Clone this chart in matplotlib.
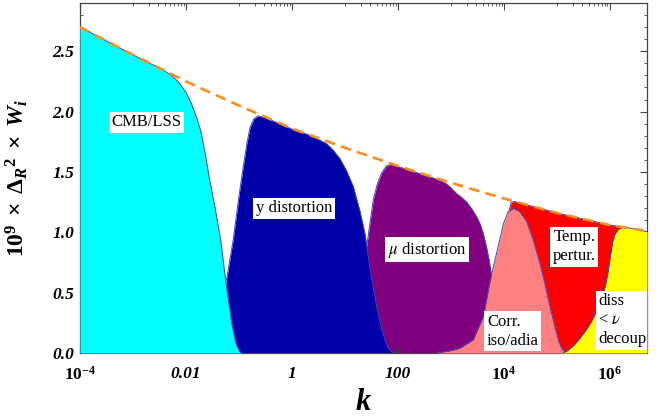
import numpy as np
import matplotlib.pyplot as plt
from matplotlib.ticker import FixedLocator, NullFormatter

plt.rcParams['font.family'] = ['Liberation Serif', 'DejaVu Serif']
plt.rcParams['mathtext.fontset'] = 'custom'
plt.rcParams['mathtext.rm'] = 'Liberation Serif:bold'
plt.rcParams['mathtext.it'] = 'Liberation Serif:bold:italic'
plt.rcParams['mathtext.bf'] = 'Liberation Serif:bold'

# ── Data (log10 k, 1e9 * Delta_R^2 * W_i) ──────────────────────────────────
env_logk = [-4.0, -3.5, -3.0, -2.5, -2.0, -1.5, -1.0, -0.5, 0.0, 0.5, 1.0, 1.5,
            2.0, 2.5, 3.0, 3.5, 4.0, 4.5, 5.0, 5.5, 6.0, 6.5, 6.7]
env_val = [2.70, 2.585, 2.47, 2.36, 2.25, 2.15, 2.05, 1.955, 1.86, 1.78, 1.70, 1.625,
           1.55, 1.48, 1.41, 1.345, 1.28, 1.22, 1.16, 1.11, 1.06, 1.025, 1.01]

cmb_logk = [-4.0, -3.5, -3.0, -2.5, -2.3, -2.15, -2.0, -1.9, -1.8, -1.72, -1.64,
            -1.56, -1.45, -1.345, -1.245, -1.14, -1.06, -1.0, -0.96]
cmb_val = [2.70, 2.585, 2.47, 2.36, 2.31, 2.25, 2.16, 2.07, 1.95, 1.84, 1.66,
           1.45, 1.20, 0.935, 0.58, 0.25, 0.08, 0.02, 0.0]

y_logk = [-1.55, -1.4, -1.245, -1.11, -1.0, -0.92, -0.85, -0.79, -0.72, -0.64, -0.5,
          0.0, 0.3, 0.5, 0.654, 0.78, 0.906, 1.03, 1.157, 1.28, 1.377, 1.47, 1.60,
          1.68, 1.755, 1.82, 1.9]
y_val = [0.0, 0.25, 0.58, 0.935, 1.30, 1.54, 1.74, 1.87, 1.94, 1.965, 1.95,
         1.855, 1.81, 1.77, 1.735, 1.68, 1.61, 1.51, 1.38, 1.18, 0.99, 0.71, 0.38,
         0.22, 0.11, 0.04, 0.0]

mu_logk = [1.1, 1.25, 1.41, 1.47, 1.535, 1.61, 1.69, 1.78, 1.88, 2.0, 2.5, 2.8,
           2.92, 3.02, 3.11, 3.2, 3.30, 3.4, 3.485, 3.55, 3.61, 3.67, 3.72, 3.77,
           3.85, 3.95]
mu_val = [0.0, 0.4, 0.88, 1.07, 1.27, 1.40, 1.49, 1.55, 1.565, 1.545, 1.475, 1.43,
          1.40, 1.36, 1.32, 1.29, 1.25, 1.19, 1.13, 1.07, 0.99, 0.88, 0.77, 0.63,
          0.30, 0.0]

corr_logk = [2.73, 3.0, 3.17, 3.42, 3.61, 3.74, 3.82, 3.89, 3.99, 4.08, 4.18,
             4.30, 4.43, 4.55, 4.68, 4.77, 4.87, 4.96, 5.04, 5.1, 5.17]
corr_val = [0.0, 0.02, 0.04, 0.11, 0.30, 0.60, 0.75, 0.88, 1.07, 1.17, 1.20,
            1.17, 1.09, 0.94, 0.74, 0.58, 0.38, 0.22, 0.09, 0.03, 0.0]

temp_logk = [3.9, 4.0, 4.1, 4.14, 4.2, 4.5, 5.0, 5.5, 6.0, 6.3, 6.5, 6.6]
temp_val = [0.0, 0.6, 1.18, 1.25, 1.255, 1.22, 1.16, 1.11, 1.06, 1.04, 0.6, 0.0]

diss_logk = [5.12, 5.2, 5.31, 5.43, 5.55, 5.65, 5.75, 5.84, 5.91, 5.96, 6.0, 6.05,
             6.1, 6.16, 6.25, 6.5, 6.7]
diss_val = [0.0, 0.02, 0.06, 0.12, 0.19, 0.26, 0.35, 0.45, 0.55, 0.66, 0.78, 0.92,
            0.99, 1.025, 1.043, 1.025, 1.005]

# (logk, values, fill colour, zorder)
bands = [
    (mu_logk, mu_val, '#800080', 1),
    (temp_logk, temp_val, '#ff0000', 1),
    (y_logk, y_val, '#0000aa', 2),
    (cmb_logk, cmb_val, '#00ffff', 3),
    (corr_logk, corr_val, '#ff8080', 3),
    (diss_logk, diss_val, '#ffff00', 3),
]

# label, log10 k of anchor, value, horizontal alignment
labels = [
    ('CMB/LSS', -2.745, 1.91, 'center'),
    ('y distortion', 0.04, 1.20, 'center'),
    (r'$\mu$ distortion', 2.55, 0.857, 'center'),
    ('Corr.\niso/adia', 3.68, 0.18, 'left'),
    ('Temp.\npertur.', 5.33, 0.88, 'center'),
    ('diss\n< $\\nu$\ndecoup', 5.78, 0.27, 'left'),
]

# ── Plot ───────────────────────────────────────────────────────────────────
fig = plt.figure(figsize=(6.68, 4.17), dpi=100)
ax = fig.add_axes([80 / 668, 1 - 353 / 417, 567 / 668, 350 / 417])

for lk, v, col, z in bands:
    k = 10.0 ** np.array(lk)
    ax.fill_between(k, v, 0, color=col, lw=0, zorder=z)
    ax.plot(k, v, color='#4646b0', lw=0.7, zorder=z)

ax.plot(10.0 ** np.array(env_logk), env_val, color='#ff8c1a', lw=1.9,
        ls=(0, (4.0, 2.4)), zorder=5)

for txt, lk, v, ha in labels:
    ax.text(10.0 ** lk, v, txt, ha=ha, va='center', fontsize=12,
            math_fontfamily='stix', linespacing=1.25, zorder=6, clip_on=True,
            bbox=dict(facecolor='white', edgecolor='none', boxstyle='square,pad=0.15'))

ax.set_xscale('log')
ax.set_xlim(1e-4, 10 ** 6.7)
ax.set_ylim(0, 2.9)

major_x = [1e-4, 1e-2, 1, 1e2, 1e4, 1e6]
major_lbl = [r'$\mathit{10^{-4}}$', '0.01', '1', '100', r'$\mathit{10^{4}}$', r'$\mathit{10^{6}}$']
minor_x = [j * 10.0 ** n for n in (-3, -1, 1, 3, 5) for j in range(1, 10)]
ax.xaxis.set_major_locator(FixedLocator(major_x))
ax.xaxis.set_minor_locator(FixedLocator(minor_x))
ax.xaxis.set_minor_formatter(NullFormatter())
ax.set_xticklabels(major_lbl)

ax.set_yticks(np.arange(0, 2.51, 0.5))
ax.set_yticks(np.arange(0, 2.9, 0.1), minor=True)
ax.set_yticklabels([f'{t:.1f}' for t in np.arange(0, 2.51, 0.5)])

for lab in ax.get_xticklabels() + ax.get_yticklabels():
    lab.set_fontweight('bold')
    lab.set_fontstyle('italic')
    lab.set_fontsize(12.5)

ax.tick_params(which='both', direction='in', top=True, right=True, color='#444444')
ax.tick_params(which='major', length=5, width=0.8)
ax.tick_params(which='minor', length=2.5, width=0.6)
ax.tick_params(axis='x', which='major', pad=9)
ax.tick_params(axis='y', which='major', pad=4)
for sp in ax.spines.values():
    sp.set_color('#444444')
    sp.set_linewidth(0.9)

ax.set_xlabel(r'$k$', fontsize=22)
ax.xaxis.set_label_coords(0.5, -0.10)
ax.xaxis.label.set_va('top')
ax.set_ylabel(r'$\mathit{10}^{\mathit{9}}\;\times\;\Delta_{R}{}^{2}\;\times\;W_{i}$', fontsize=17)
ax.yaxis.set_label_coords(-0.089, 0.5)

fig.savefig('out.png', dpi=100)
